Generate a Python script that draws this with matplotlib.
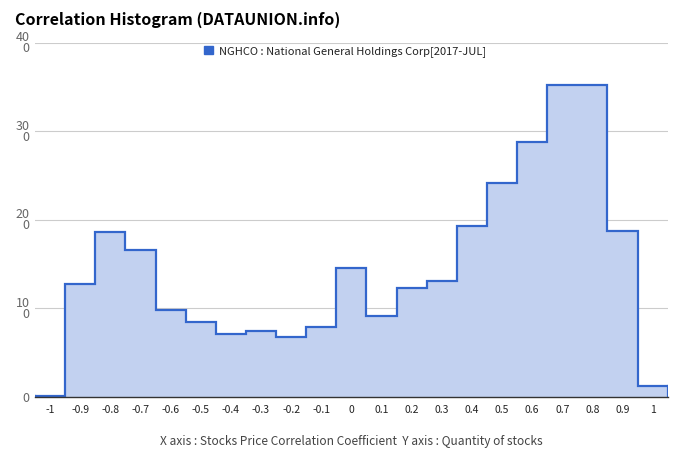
import matplotlib.pyplot as plt
import numpy as np
from matplotlib.patches import Patch

plt.rcParams["font.family"] = ["Noto Sans CJK KR", "DejaVu Sans"]

bin_centers = [-1.0, -0.9, -0.8, -0.7, -0.6, -0.5, -0.4, -0.3, -0.2, -0.1, 0.0,
               0.1, 0.2, 0.3, 0.4, 0.5, 0.6, 0.7, 0.8, 0.9, 1.0]
counts = [1, 128, 186, 166, 98, 85, 71, 75, 68, 79, 146,
          92, 123, 131, 193, 242, 288, 353, 353, 188, 12]
x_ticks = [-1, -0.9, -0.8, -0.7, -0.6, -0.5, -0.4, -0.3, -0.2, -0.1, 0,
           0.1, 0.2, 0.3, 0.4, 0.5, 0.6, 0.7, 0.8, 0.9, 1]
y_ticks = [0, 100, 200, 300, 400]
y_labels = ["0", "10\n0", "20\n0", "30\n0", "40\n0"]

line_color = "#3366cc"
fill_color = "#c2d1f0"

fig = plt.figure(figsize=(6.8, 4.62), dpi=100)
ax = fig.add_axes([0.0515, 0.1407, 0.9305, 0.7663])

edges = np.append(np.array(bin_centers) - 0.05, bin_centers[-1] + 0.05)
ax.stairs(counts, edges, fill=True, color=fill_color, linewidth=0)
ax.stairs(counts, edges, color=line_color, linewidth=1.6, baseline=None)
# vertical closing segments at each end
ax.plot([edges[0], edges[0]], [0, counts[0]], color=line_color, lw=1.6)
ax.plot([edges[-1], edges[-1]], [0, counts[-1]], color=line_color, lw=1.6)

ax.set_xlim(-1.05, 1.05)
ax.set_ylim(0, 400)
ax.set_yticks(y_ticks)
ax.set_yticklabels(y_labels, color="#666666", fontsize=9, linespacing=0.8,
                   multialignment="right")
ax.set_xticks(x_ticks)
ax.set_xticklabels([f"{t:g}" for t in x_ticks], color="#222222", fontsize=7.5)
ax.tick_params(axis="both", length=0)
ax.tick_params(axis="y", pad=4)
ax.tick_params(axis="x", pad=6)
ax.grid(axis="y", color="#cccccc", linewidth=0.8)
ax.set_axisbelow(True)
for side in ["top", "right", "left"]:
    ax.spines[side].set_visible(False)
ax.spines["bottom"].set_color("#333333")
ax.spines["bottom"].set_linewidth(1.0)
ax.spines["bottom"].set_zorder(5)

fig.text(0.022, 0.958, "Correlation Histogram (DATAUNION.info)",
         fontsize=11.5, fontweight="bold", color="#000000", va="center")

handle = Patch(facecolor=line_color, edgecolor=line_color)
ax.legend([handle], ["NGHCO : National General Holdings Corp[2017-JUL]"],
          loc="upper center", bbox_to_anchor=(0.49, 1.02), frameon=False,
          fontsize=8, handlelength=0.8, handleheight=0.8,
          labelcolor="#222222", handletextpad=0.6)

ax.set_xlabel("X axis : Stocks Price Correlation Coefficient  Y axis : Quantity of stocks",
              fontsize=8.6, color="#444444", labelpad=14)

fig.savefig("out.png", dpi=100)
